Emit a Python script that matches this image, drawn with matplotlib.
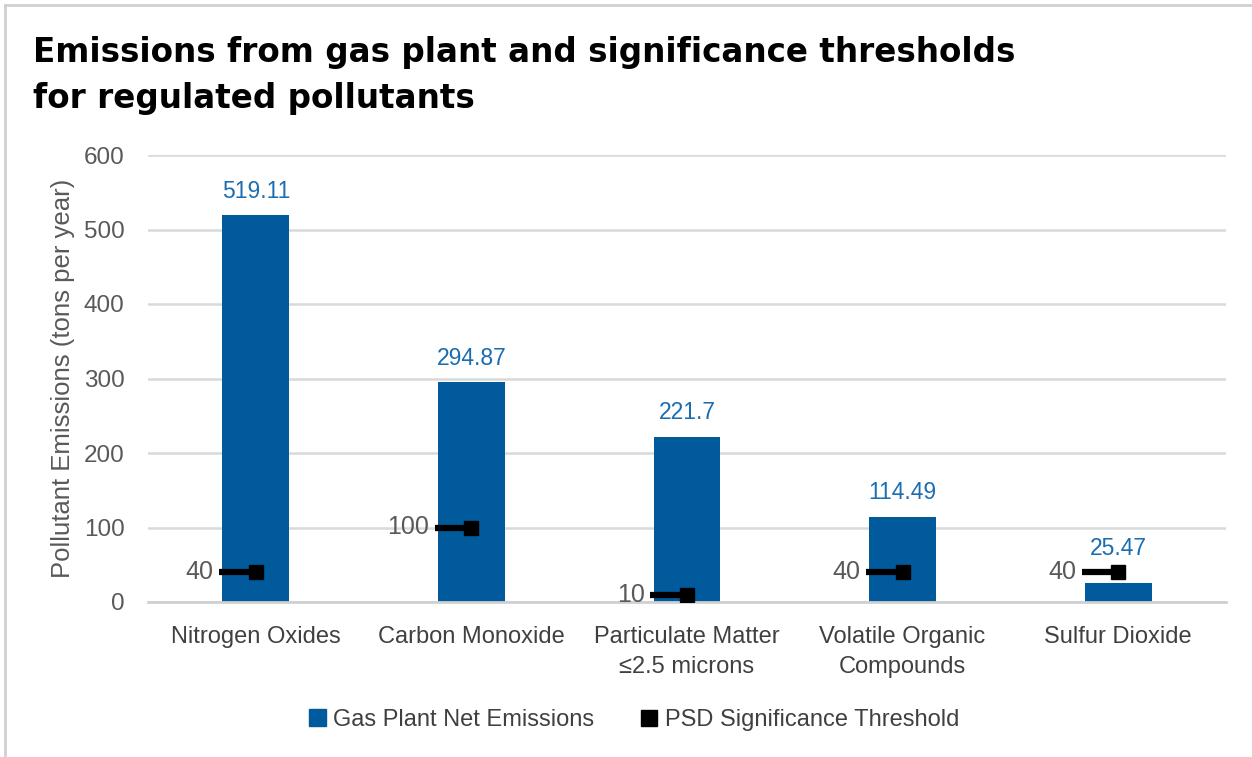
import matplotlib.pyplot as plt
from matplotlib.lines import Line2D
from matplotlib.patches import Patch

categories = ["Nitrogen Oxides", "Carbon Monoxide", "Particulate Matter\n\u22642.5 microns",
              "Volatile Organic\nCompounds", "Sulfur Dioxide"]
emissions = [519.11, 294.87, 221.7, 114.49, 25.47]
emission_labels = ["519.11", "294.87", "221.7", "114.49", "25.47"]
thresholds = [40, 100, 10, 40, 40]
yticks = [0, 100, 200, 300, 400, 500, 600]

plt.rcParams['font.family'] = ['Liberation Sans', 'DejaVu Sans']

BLUE = "#005a9c"
LABEL_BLUE = "#1b6db0"
GRAY = "#595959"

fig = plt.figure(figsize=(12.52, 7.57), dpi=100)
ax = fig.add_axes([148/1252, 1-602/757, 1078/1252, (602-155)/757])

x = list(range(len(categories)))
ax.bar(x, emissions, width=0.31, color=BLUE, zorder=2)
for xi, v, t, lab in zip(x, emissions, thresholds, emission_labels):
    ax.annotate(lab, (xi, max(v, t)), xytext=(0, 9), textcoords='offset points',
                ha='center', va='bottom', color=LABEL_BLUE, fontsize=16.5)
for xi, t in zip(x, thresholds):
    ax.plot([xi - 0.17, xi], [t, t], color='black', lw=4.5, solid_capstyle='butt', zorder=3)
    ax.plot([xi], [t], marker='s', color='black', markersize=10, zorder=4)
    ax.annotate(str(t), (xi - 0.17, t), xytext=(-4, 0), textcoords='offset points',
                ha='right', va='center', color=GRAY, fontsize=18)

ax.set_xlim(-0.5, 4.5)
ax.set_ylim(0, 600)
ax.set_yticks(yticks)
ax.set_xticks(x)
ax.set_xticklabels(categories, fontsize=17, color="#404040", linespacing=1.5)
ax.tick_params(axis='y', labelsize=17.5, labelcolor=GRAY, length=0, pad=17)
ax.tick_params(axis='x', length=0, pad=17)
ax.grid(axis='y', color="#d9d9d9", lw=1.8, zorder=0)
ax.set_axisbelow(True)
for s in ['top', 'right', 'left']:
    ax.spines[s].set_visible(False)
ax.spines['bottom'].set_color("#d0d0d0")
ax.spines['bottom'].set_linewidth(2)
ax.set_ylabel("Pollutant Emissions (tons per year)", fontsize=18.5, color=GRAY, labelpad=6)

tfam = ['DejaVu Sans']
fig.text(33/1252, 1-62/757, "Emissions from gas plant and significance thresholds",
         fontsize=23.5, fontweight='bold', family=tfam, va='baseline')
fig.text(33/1252, 1-108/757, "for regulated pollutants",
         fontsize=23.5, fontweight='bold', family=tfam, va='baseline')

handles = [Patch(color=BLUE, label="Gas Plant Net Emissions"),
           Line2D([], [], marker='s', color='black', lw=0, markersize=11, label="PSD Significance Threshold")]
fig.legend(handles=handles, loc='center', bbox_to_anchor=(634/1252, 1-720/757), ncol=2,
           frameon=False, fontsize=17, handlelength=0.7, handletextpad=0.3, columnspacing=2.0,
           labelcolor="#404040")

fig.add_artist(Line2D([5/1252, 1], [1-5/757, 1-5/757], color="#d0d0d0", lw=2, transform=fig.transFigure))
fig.add_artist(Line2D([5/1252, 5/1252], [0, 1-5/757], color="#d0d0d0", lw=2, transform=fig.transFigure))

fig.savefig("out.png", dpi=100)
